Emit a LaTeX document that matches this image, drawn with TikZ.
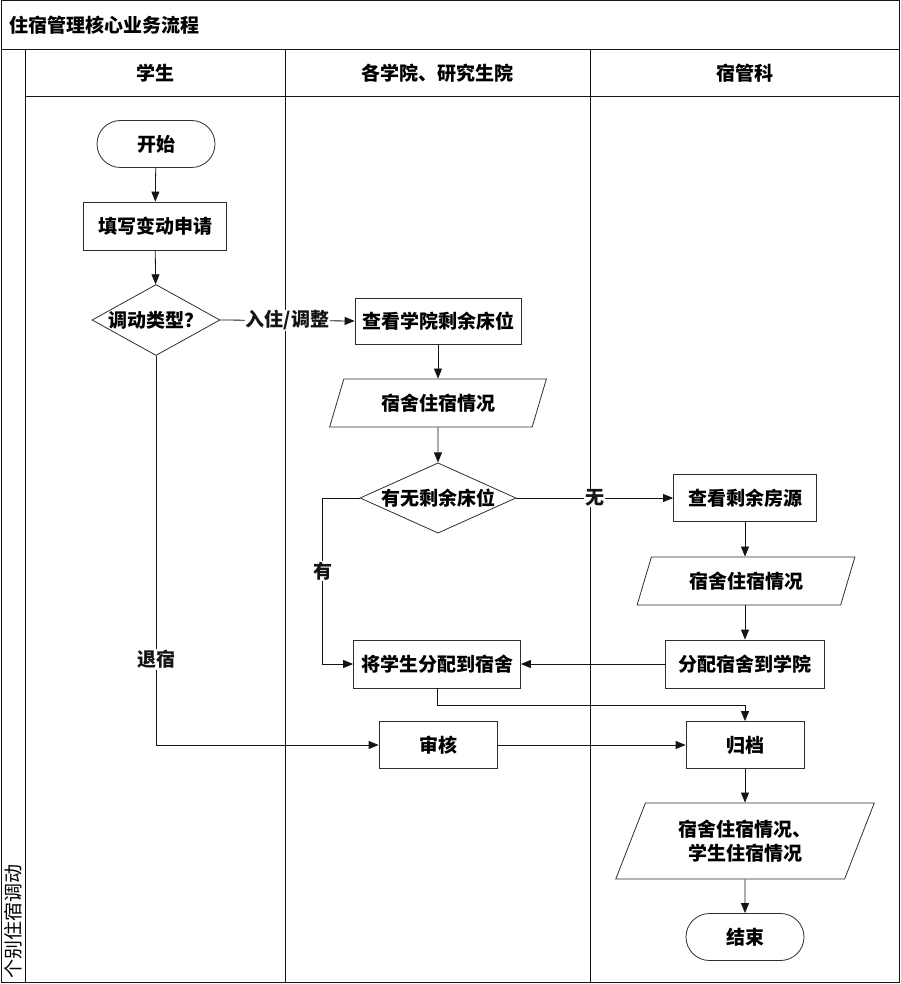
\documentclass[tikz,border=0pt]{standalone}
\usepackage{fontspec}
\setmainfont{Noto Sans CJK SC}
\usepackage{xcolor}
\usepackage{tikz}
\usetikzlibrary{arrows.meta,shapes.geometric,shapes.misc,calc}
\definecolor{blackline}{HTML}{141414}
\definecolor{boxgray}{HTML}{2E2E2E}
\tikzset{
  every node/.append style={font=\fontsize{19}{24}\selectfont\bfseries},
  procbox/.style={draw=boxgray,line width=.8pt,rectangle,inner sep=0pt},
  termbox/.style={draw=boxgray,line width=.8pt,rounded rectangle,inner sep=0pt,
    minimum width=118pt,minimum height=47pt},
  decbox/.style={draw=boxgray,line width=.8pt,diamond,inner sep=0pt},
  databox/.style={draw=boxgray,line width=.8pt,trapezium,trapezium left angle=65,
    trapezium right angle=115,trapezium stretches=true,inner sep=0pt},
  flow/.style={->,blackline,line width=.8pt},
  lbl/.style={fill=white,inner sep=1pt},
  lane/.style={blackline,line width=1pt}
}

\begin{document}
\begin{tikzpicture}[>={Triangle[length=10pt,width=8pt]},x=1pt,y=-1pt]
  \useasboundingbox (0,0) rectangle (901,984);
  % swimlane frame
  \draw[lane] (1,1) rectangle (899,982);
  \draw[lane] (1,50) -- (899,50);
  \draw[lane] (25,97) -- (899,97);
  \foreach \lx in {25,285,590}
    \draw[lane] (\lx,50) -- (\lx,982);
  \node[anchor=west] (title) at (6,25) {住宿管理核心业务流程};
  \node (lanea) at (155,73) {学生};
  \node (laneb) at (437,73) {各学院、研究生院};
  \node (lanec) at (745,73) {宿管科};
  \node[rotate=90,font=\fontsize{19}{24}\selectfont] (phase) at (13,921) {个别住宿调动};

  % student
  \node[termbox] (start) at (156,144) {开始};
  \node[procbox,minimum width=143pt,minimum height=48pt] (fillform) at (155,226) {填写变动申请};
  \node[decbox,aspect=1.8,minimum width=128pt,minimum height=71pt] (movetype) at (156,320) {调动类型？};

  % colleges
  \node[procbox,minimum width=166pt,minimum height=46pt] (checkbed) at (438,321) {查看学院剩余床位};
  \node[databox,minimum width=217pt,minimum height=48pt] (bedinfo) at (438,403) {宿舍住宿情况};
  \node[decbox,aspect=2.2,minimum width=156pt,minimum height=70pt] (havebed) at (438,498) {有无剩余床位};
  \node[procbox,minimum width=167pt,minimum height=48pt] (assignbed) at (437,664) {将学生分配到宿舍};
  \node[procbox,minimum width=118pt,minimum height=47pt] (audit) at (438,745) {审核};

  % dormitory office
  \node[procbox,minimum width=143pt,minimum height=47pt] (checkroom) at (745,498) {查看剩余房源};
  \node[databox,minimum width=218pt,minimum height=48pt] (roominfo) at (746,581) {宿舍住宿情况};
  \node[procbox,minimum width=159pt,minimum height=48pt] (allotroom) at (745,664) {分配宿舍到学院};
  \node[procbox,minimum width=118pt,minimum height=47pt] (archive) at (745,745) {归档};
  \node[databox,minimum width=259pt,minimum height=76pt,align=center] (finalinfo) at (745,841)
    {宿舍住宿情况、\\学生住宿情况};
  \node[termbox] (stop) at (745,937) {结束};

  % connectors
  \draw[flow] (start) -- (fillform);
  \draw[flow] (fillform) -- (movetype);
  \draw[flow] (movetype.east) -- node[lbl] {入住/调整} (checkbed.west);
  \draw[flow] (movetype.south) |- node[lbl,pos=.39] {退宿} (audit.west);
  \draw[flow] (checkbed) -- (bedinfo);
  \draw[flow] (bedinfo) -- (havebed);
  \draw[flow] (havebed.east) -- node[lbl] {无} (checkroom.west);
  \draw[flow] (havebed.west) -- ++(-37,0) |- node[lbl,pos=.22] {有} (assignbed.west);
  \draw[flow] (checkroom) -- (checkroom |- roominfo.north);
  \draw[flow] (checkroom |- roominfo.south) -- (allotroom);
  \draw[flow] (allotroom) -- (assignbed);
  \draw[flow] (assignbed.south) -- ++(0,17) -| (archive.north);
  \draw[flow] (audit) -- (archive);
  \draw[flow] (archive) -- (finalinfo);
  \draw[flow] (finalinfo) -- (stop);
\end{tikzpicture}
\end{document}
